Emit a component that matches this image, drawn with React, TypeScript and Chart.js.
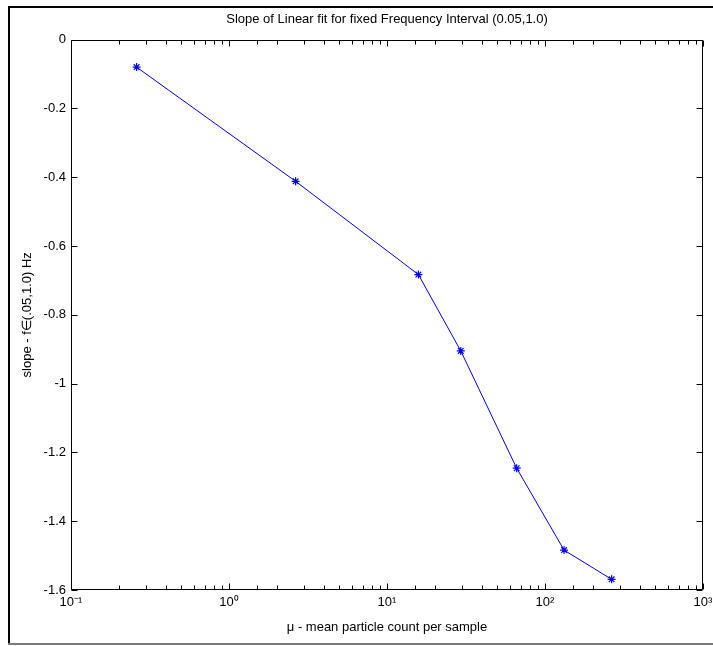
import React, { useEffect, useRef } from "react";
import { Chart, registerables } from "chart.js";

Chart.register(...registerables);

// Mean particle count per sample (log axis) and fitted slope for each
const meanCounts = [0.26, 2.64, 15.8, 29.3, 66.2, 132, 264];
const slopes = [-0.08, -0.412, -0.683, -0.905, -1.246, -1.484, -1.569];

// Decade ticks on the x axis and their labels
const xDecades = [0.1, 1, 10, 100, 1000];
const xDecadeLabels = ["10\u207B\u00B9", "10\u2070", "10\u00B9", "10\u00B2", "10\u00B3"];

const yMin = -1.6;
const yMax = 0;
const yStep = 0.2;

const titleText = "Slope of Linear fit for fixed Frequency Interval (0.05,1.0)";
const xTitleText = "\u03BC - mean particle count per sample";
const yTitleText = "slope - f\u2208(.05,1.0) Hz";

const FONT_FAMILY = "'Liberation Sans', Arial, Helvetica, sans-serif";
const baseFont = { family: FONT_FAMILY, size: 13, weight: "normal" as const };

const isDecade = (v: number) => {
  const l = Math.log10(v);
  return Math.abs(l - Math.round(l)) < 1e-6;
};

// Figure frame, axes box and inward-pointing tick marks
const axesBoxPlugin = {
  id: "axesBox",
  beforeDraw(chart: any) {
    const { ctx, width, height } = chart;
    ctx.save();
    ctx.fillStyle = "#ffffff";
    ctx.fillRect(0, 0, width, height);
    ctx.fillStyle = "#000000";
    ctx.fillRect(8, 6, width - 8, 2);
    ctx.fillRect(8, 6, 2, height - 7);
    ctx.fillStyle = "#7a7a7a";
    ctx.fillRect(8, 643, width - 8, 2);
    ctx.restore();
  },
  beforeDatasetsDraw(chart: any) {
    const { ctx, chartArea, scales } = chart;
    const left = Math.round(chartArea.left) + 0.5;
    const right = Math.round(chartArea.right) - 0.5;
    const top = Math.round(chartArea.top) + 0.5;
    const bottom = Math.round(chartArea.bottom) - 0.5;
    ctx.save();
    ctx.strokeStyle = "#000000";
    ctx.lineWidth = 1;
    ctx.beginPath();
    ctx.rect(left, top, right - left, bottom - top);
    ctx.stroke();

    const xs = scales.x;
    ctx.beginPath();
    for (const t of xs.ticks) {
      const px = Math.round(xs.getPixelForValue(t.value)) + 0.5;
      const len = isDecade(t.value) ? 6 : 4;
      ctx.moveTo(px, bottom);
      ctx.lineTo(px, bottom - len);
      ctx.moveTo(px, top);
      ctx.lineTo(px, top + len);
    }
    const ys = scales.y;
    for (const t of ys.ticks) {
      const py = Math.round(ys.getPixelForValue(t.value)) + 0.5;
      ctx.moveTo(left, py);
      ctx.lineTo(left + 6, py);
      ctx.moveTo(right, py);
      ctx.lineTo(right - 6, py);
    }
    ctx.stroke();
    ctx.restore();
  },
};

export default function App() {
  const canvasRef = useRef<HTMLCanvasElement | null>(null);

  useEffect(() => {
    const canvas = canvasRef.current;
    if (!canvas) return;

    const points = meanCounts.map((x, i) => ({ x, y: slopes[i] }));

    const chart = new Chart(canvas, {
      type: "line",
      data: {
        datasets: [
          {
            data: points,
            borderColor: "#0000ff",
            borderWidth: 1,
            pointStyle: "star",
            pointRadius: 4,
            pointBorderColor: "#0000ff",
            pointBorderWidth: 1.2,
            pointBackgroundColor: "#0000ff",
            tension: 0,
            fill: false,
          },
        ],
      },
      options: {
        responsive: false,
        animation: false,
        devicePixelRatio: 1,
        layout: { padding: { left: 0, right: 10, top: 0, bottom: 0 } },
        plugins: {
          legend: { display: false },
          tooltip: { enabled: false },
          title: {
            display: true,
            fullSize: false,
            text: titleText,
            color: "#000000",
            font: baseFont,
            padding: { top: 12, bottom: 12 },
          },
        },
        scales: {
          x: {
            type: "logarithmic",
            min: 0.1,
            max: 1000,
            grid: { display: false, drawTicks: false },
            border: { display: false },
            ticks: {
              autoSkip: false,
              maxRotation: 0,
              minRotation: 0,
              padding: 5,
              color: "#000000",
              font: baseFont,
              callback: (v: any) => {
                const val = Number(v);
                const i = xDecades.findIndex((d) => Math.abs(d - val) / d < 1e-6);
                return i >= 0 ? xDecadeLabels[i] : "";
              },
            },
            title: {
              display: true,
              text: xTitleText,
              color: "#000000",
              font: baseFont,
              padding: { top: 0, bottom: 11 },
            },
            afterFit(scale: any) {
              scale.height = 56;
              scale.paddingLeft = 0;
              scale.paddingRight = 0;
            },
          },
          y: {
            type: "linear",
            min: yMin,
            max: yMax,
            grid: { display: false, drawTicks: false },
            border: { display: false },
            ticks: {
              stepSize: yStep,
              padding: 5,
              color: "#000000",
              font: baseFont,
              callback: (v: any) => String(Number(Number(v).toFixed(1))),
            },
            title: {
              display: true,
              text: yTitleText,
              color: "#000000",
              font: baseFont,
              padding: { top: 20, bottom: 0 },
            },
            afterFit(scale: any) {
              scale.width = 71;
              scale.paddingTop = 0;
              scale.paddingBottom = 0;
            },
          },
        },
      },
      plugins: [axesBoxPlugin],
    });

    return () => chart.destroy();
  }, []);

  return (
    <div
      style={{
        position: "fixed",
        left: 0,
        top: 0,
        width: 713,
        height: 646,
        background: "#ffffff",
        overflow: "hidden",
      }}
    >
      <canvas ref={canvasRef} width={713} height={646} style={{ display: "block" }} />
    </div>
  );
}
